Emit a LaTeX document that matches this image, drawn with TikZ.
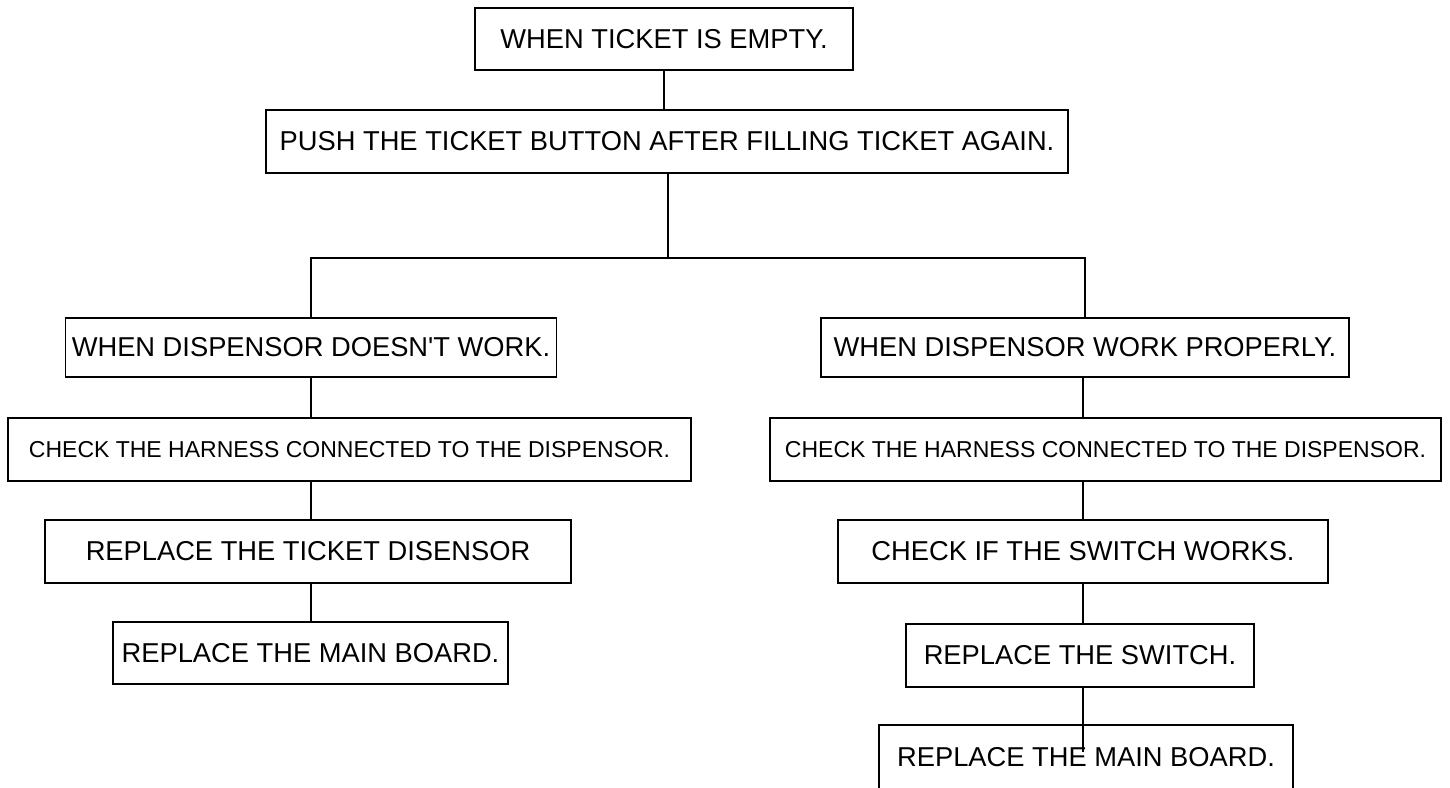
\documentclass[tikz,border=0pt]{standalone}
\usepackage{fontspec}
\setmainfont{Liberation Sans}
\usetikzlibrary{positioning}

\begin{document}
\begin{tikzpicture}[x=1pt,y=-1pt,line width=1.6pt,
  stepbox/.style={draw=black, align=center, inner sep=0pt, font=\fontsize{27.3}{30}\selectfont},
  smallbox/.style={stepbox, font=\fontsize{23}{26}\selectfont}]
\useasboundingbox (0,0) rectangle (1450,787);
\node[stepbox, minimum width=378, minimum height=62] (empty) at (664,39) {WHEN TICKET IS EMPTY.};
\node[stepbox, minimum width=802, minimum height=63] (push) at (667,141.5) {PUSH THE TICKET BUTTON AFTER FILLING TICKET AGAIN.};
\coordinate (split) at (668,258);
% left branch
\node[stepbox, minimum width=491, minimum height=59] (fail) at (311,347.5) {WHEN DISPENSOR DOESN\textquotesingle T WORK.};
\node[smallbox, minimum width=683, minimum height=63] (harnessL) at (349.5,449.5) {CHECK THE HARNESS CONNECTED TO THE DISPENSOR.};
\node[stepbox, minimum width=526, minimum height=63] (dispenser) at (308,551.5) {REPLACE THE TICKET DISENSOR};
\node[stepbox, minimum width=395, minimum height=62] (boardL) at (310.5,653) {REPLACE THE MAIN BOARD.};
% right branch
\node[stepbox, minimum width=528, minimum height=59] (works) at (1085,347.5) {WHEN DISPENSOR WORK PROPERLY.};
\node[smallbox, minimum width=671, minimum height=63] (harnessR) at (1105.5,449.5) {CHECK THE HARNESS CONNECTED TO THE DISPENSOR.};
\node[stepbox, minimum width=490, minimum height=63] (switchchk) at (1083,551.5) {CHECK IF THE SWITCH WORKS.};
\node[stepbox, minimum width=348, minimum height=63] (switch) at (1080,655.5) {REPLACE THE SWITCH.};
\node[stepbox, draw=none, minimum width=412, minimum height=62] (boardR) at (1086,757) {REPLACE THE MAIN BOARD.};
\draw (boardR.south west) |- (boardR.north east) -- (boardR.south east);
\coordinate (tail) at (1083,752);
% connectors
\draw (empty.south) -- (empty.south |- push.north);
\draw (push.south -| split) -- (split);
\draw (fail.north) |- (split) -| (works.north);
\draw (fail.south) -- (fail.south |- harnessL.north);
\draw (fail.south |- harnessL.south) -- (fail.south |- dispenser.north);
\draw (fail.south |- dispenser.south) -- (fail.south |- boardL.north);
\draw (tail |- works.south) -- (tail |- harnessR.north);
\draw (tail |- harnessR.south) -- (switchchk.north);
\draw (switchchk.south) -- (tail |- switch.north);
\draw (tail |- switch.south) -- (tail);
\end{tikzpicture}
\end{document}
